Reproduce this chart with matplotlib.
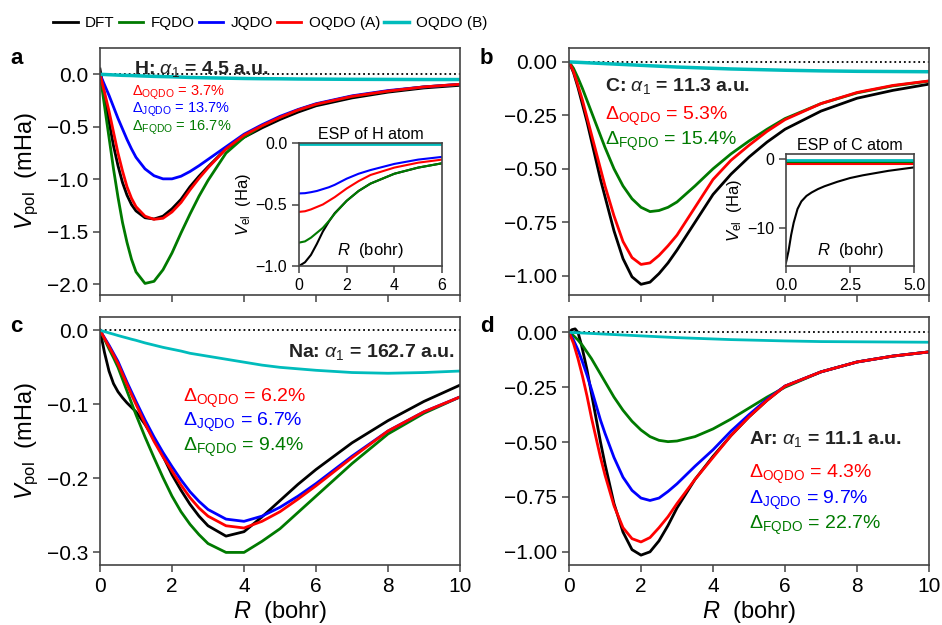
import matplotlib
matplotlib.use("Agg")
import matplotlib.pyplot as plt

plt.rcParams['font.family'] = ['Liberation Sans', 'DejaVu Sans']
plt.rcParams['mathtext.fontset'] = 'custom'
plt.rcParams['mathtext.rm'] = 'Liberation Sans'
plt.rcParams['mathtext.it'] = 'Liberation Sans:italic'
plt.rcParams['mathtext.bf'] = 'Liberation Sans:bold'

# colours of the methods
c_dft, c_fqdo, c_jqdo, c_oa, c_ob = 'black', '#007a00', '#0000ff', '#ff0000', '#00bcbc'

# common R grid (bohr) for the main panels
R = [0, 0.125, 0.25, 0.375, 0.5, 0.625, 0.75, 0.875, 1.0,
     1.25, 1.5, 1.75, 2.0, 2.25, 2.5, 2.75, 3.0,
     3.5, 4.0, 4.5, 5.0, 5.5, 6.0,
     7.0, 8.0, 9.0, 10.0]

# H (mHa)
h_dft = [0.05, -0.2, -0.45, -0.68, -0.87, -1.03, -1.15, -1.24, -1.3,
         -1.365, -1.377, -1.35, -1.28, -1.19, -1.07, -0.97, -0.88,
         -0.71, -0.6, -0.51, -0.43, -0.36, -0.3,
         -0.225, -0.17, -0.13, -0.105]
h_oqdo_a = [0, -0.17, -0.35, -0.55, -0.75, -0.92, -1.07, -1.18, -1.26,
            -1.35, -1.38, -1.37, -1.31, -1.22, -1.1, -0.99, -0.89,
            -0.71, -0.58, -0.49, -0.41, -0.34, -0.285,
            -0.21, -0.16, -0.12, -0.095]
h_jqdo = [0, -0.1, -0.2, -0.31, -0.42, -0.52, -0.62, -0.71, -0.79,
          -0.9, -0.965, -0.995, -0.995, -0.97, -0.925, -0.87, -0.81,
          -0.69, -0.57, -0.48, -0.4, -0.335, -0.28,
          -0.205, -0.155, -0.12, -0.095]
h_fqdo = [0, -0.3, -0.6, -0.9, -1.17, -1.41, -1.6, -1.76, -1.88,
          -1.99, -1.97, -1.86, -1.7, -1.51, -1.33, -1.16, -1.01,
          -0.75, -0.6, -0.49, -0.41, -0.34, -0.285,
          -0.21, -0.16, -0.12, -0.097]
h_oqdo_b = [0, -0.002, -0.004, -0.006, -0.008, -0.01, -0.011, -0.012, -0.014,
            -0.017, -0.02, -0.022, -0.024, -0.027, -0.03, -0.032, -0.034,
            -0.037, -0.04, -0.042, -0.043, -0.045, -0.046,
            -0.048, -0.049, -0.05, -0.05]

# C (mHa)
c_dft_v = [0, -0.05, -0.12, -0.2, -0.28, -0.37, -0.46, -0.55, -0.63,
           -0.79, -0.92, -1.005, -1.04, -1.03, -0.99, -0.94, -0.88,
           -0.75, -0.62, -0.525, -0.445, -0.375, -0.315,
           -0.23, -0.17, -0.133, -0.104]
c_oqdo_a = [0, -0.045, -0.11, -0.18, -0.26, -0.34, -0.42, -0.5, -0.58,
            -0.72, -0.84, -0.915, -0.947, -0.94, -0.905, -0.86, -0.81,
            -0.68, -0.55, -0.46, -0.39, -0.325, -0.27,
            -0.195, -0.143, -0.11, -0.089]
c_fqdo_v = [0, -0.03, -0.075, -0.125, -0.18, -0.235, -0.29, -0.345, -0.4,
            -0.5, -0.58, -0.64, -0.68, -0.7, -0.695, -0.68, -0.655,
            -0.58, -0.5, -0.43, -0.37, -0.315, -0.265,
            -0.195, -0.145, -0.112, -0.09]
c_oqdo_b = [0, -0.001, -0.002, -0.003, -0.004, -0.005, -0.006, -0.007, -0.008,
            -0.01, -0.012, -0.014, -0.016, -0.018, -0.02, -0.022, -0.024,
            -0.027, -0.03, -0.033, -0.035, -0.037, -0.039,
            -0.042, -0.044, -0.045, -0.046]

# Na (mHa)
na_dft = [0, -0.03, -0.055, -0.072, -0.083, -0.091, -0.098, -0.104, -0.11,
          -0.127, -0.147, -0.17, -0.195, -0.216, -0.235, -0.251, -0.264,
          -0.278, -0.272, -0.252, -0.23, -0.208, -0.188,
          -0.152, -0.122, -0.096, -0.074]
na_jqdo = [0, -0.01, -0.02, -0.031, -0.042, -0.056, -0.07, -0.083, -0.096,
           -0.121, -0.144, -0.165, -0.184, -0.202, -0.218, -0.231, -0.242,
           -0.255, -0.258, -0.251, -0.239, -0.224, -0.207,
           -0.17, -0.136, -0.11, -0.09]
na_oqdo_a = [0, -0.011, -0.022, -0.033, -0.045, -0.059, -0.073, -0.087, -0.1,
             -0.126, -0.15, -0.171, -0.19, -0.209, -0.226, -0.24, -0.251,
             -0.264, -0.267, -0.258, -0.245, -0.228, -0.21,
             -0.172, -0.136, -0.11, -0.09]
na_fqdo = [0, -0.012, -0.025, -0.037, -0.05, -0.066, -0.082, -0.098, -0.114,
           -0.144, -0.172, -0.199, -0.224, -0.245, -0.262, -0.276, -0.288,
           -0.3, -0.3, -0.285, -0.268, -0.246, -0.224,
           -0.18, -0.14, -0.112, -0.09]
na_oqdo_b = [0, -0.0017, -0.0035, -0.0052, -0.007, -0.0087, -0.0103, -0.012, -0.0135,
             -0.017, -0.02, -0.023, -0.0255, -0.028, -0.031, -0.033, -0.035,
             -0.039, -0.043, -0.047, -0.05, -0.052, -0.054,
             -0.057, -0.058, -0.057, -0.055]

# Ar (mHa); DFT has its own grid because of the bump near R = 0
R_ar_dft = [0, 0.08, 0.17, 0.25, 0.35, 0.5, 0.625, 0.75, 0.875, 1.0,
            1.25, 1.5, 1.75, 2.0, 2.25, 2.5, 2.75, 3.0,
            3.5, 4.0, 4.5, 5.0, 5.5, 6.0, 7.0, 8.0, 9.0, 10.0]
ar_dft = [0, 0.012, 0.016, 0.0, -0.06, -0.17, -0.28, -0.39, -0.5, -0.6,
          -0.78, -0.91, -0.99, -1.015, -1.0, -0.95, -0.88, -0.8,
          -0.67, -0.565, -0.47, -0.385, -0.31, -0.245, -0.18, -0.135, -0.108, -0.089]
ar_oqdo_a = [0, -0.05, -0.12, -0.2, -0.29, -0.39, -0.48, -0.57, -0.65,
             -0.79, -0.89, -0.94, -0.955, -0.935, -0.89, -0.84, -0.78,
             -0.67, -0.57, -0.47, -0.385, -0.31, -0.245,
             -0.18, -0.135, -0.108, -0.089]
ar_jqdo = [0, -0.035, -0.08, -0.135, -0.195, -0.26, -0.33, -0.4, -0.46,
           -0.57, -0.66, -0.72, -0.755, -0.766, -0.755, -0.725, -0.69,
           -0.61, -0.535, -0.45, -0.375, -0.305, -0.245,
           -0.18, -0.135, -0.108, -0.089]
ar_fqdo = [0, -0.015, -0.035, -0.06, -0.09, -0.12, -0.155, -0.19, -0.225,
           -0.295, -0.355, -0.405, -0.445, -0.475, -0.492, -0.498, -0.495,
           -0.475, -0.44, -0.395, -0.345, -0.295, -0.25,
           -0.18, -0.135, -0.108, -0.089]
ar_oqdo_b = [0, -0.001, -0.002, -0.003, -0.004, -0.005, -0.006, -0.007, -0.008,
             -0.01, -0.012, -0.014, -0.016, -0.018, -0.02, -0.022, -0.024,
             -0.027, -0.03, -0.033, -0.035, -0.037, -0.039,
             -0.042, -0.043, -0.044, -0.045]

# inset: ESP of H atom (Ha)
R_esp_h = [0, 0.25, 0.5, 0.75, 1.0, 1.25, 1.5, 2.0, 2.5, 3.0, 4.0, 5.0, 6.0]
esp_h_dft = [-1.0, -0.97, -0.91, -0.82, -0.72, -0.64, -0.57, -0.47, -0.39, -0.33, -0.25, -0.2, -0.165]
esp_h_fqdo = [-0.81, -0.8, -0.77, -0.73, -0.69, -0.635, -0.575, -0.47, -0.39, -0.33, -0.25, -0.2, -0.165]
esp_h_oqdo_a = [-0.56, -0.555, -0.54, -0.52, -0.5, -0.47, -0.44, -0.37, -0.31, -0.26, -0.2, -0.16, -0.135]
esp_h_jqdo = [-0.41, -0.408, -0.4, -0.39, -0.375, -0.36, -0.34, -0.29, -0.25, -0.22, -0.17, -0.135, -0.113]
esp_h_oqdo_b = [-0.01, -0.01, -0.01, -0.01, -0.01, -0.01, -0.01, -0.01, -0.01, -0.01, -0.01, -0.01, -0.01]

# inset: ESP of C atom (Ha)
R_esp_c = [0, 0.1, 0.2, 0.3, 0.45, 0.6, 0.8, 1.0, 1.25, 1.5, 2.0, 2.5, 3.0, 4.0, 5.0]
esp_c_dft = [-15.0, -13.3, -11.0, -9.2, -7.2, -6.1, -5.3, -4.8, -4.3, -3.9, -3.25, -2.7, -2.3, -1.65, -1.15]
esp_c_end = [0, 5.0]
esp_c_oqdo_a = [-0.6, -0.6]
esp_c_fqdo = [-0.35, -0.35]
esp_c_oqdo_b = [-0.1, -0.1]

W, H = 942, 625
fig = plt.figure(figsize=(W / 100, H / 100), dpi=100)


def px_axes(x0, y0, x1, y1):
    return fig.add_axes([x0 / W, 1 - y1 / H, (x1 - x0) / W, (y1 - y0) / H])


def style(ax, size=15):
    for s in ax.spines.values():
        s.set_color('#444444')
        s.set_linewidth(1.2)
    ax.tick_params(direction='out', length=5, width=1.1, labelsize=size, color='#444444')


lw = 2.0
ax_a = px_axes(100, 48, 460, 295)
ax_b = px_axes(569, 48, 929, 295)
ax_c = px_axes(100, 317, 460, 565)
ax_d = px_axes(569, 317, 929, 565)

for ax in (ax_a, ax_b, ax_c, ax_d):
    ax.plot([0, 10], [0, 0], ':', color='black', lw=1.3, zorder=1)
    style(ax)
    ax.set_xlim(0, 10)
    ax.set_xticks([0, 2, 4, 6, 8, 10])

# panel a
ax_a.plot(R, h_dft, color=c_dft, lw=lw, label='DFT')
ax_a.plot(R, h_fqdo, color=c_fqdo, lw=lw, label='FQDO')
ax_a.plot(R, h_jqdo, color=c_jqdo, lw=lw, label='JQDO')
ax_a.plot(R, h_oqdo_a, color=c_oa, lw=lw, label='OQDO (A)')
ax_a.plot(R, h_oqdo_b, color=c_ob, lw=lw + 0.5, label='OQDO (B)')
ax_a.set_ylim(-2.1, 0.25)
ax_a.set_yticks([0, -0.5, -1.0, -1.5, -2.0])
ax_a.set_yticklabels(['0.0', '−0.5', '−1.0', '−1.5', '−2.0'])
ax_a.set_xticklabels([])
ax_a.set_ylabel('$V_{\\rm pol}$  (mHa)', fontsize=17)
ax_a.text(0.095, 0.955, 'H: $\\alpha_1$ = 4.5 a.u.', transform=ax_a.transAxes, fontsize=14,
          fontweight='bold', color='#222222', va='top')
ax_a.text(0.09, 0.855, '$\\Delta_{\\rm OQDO}$ = 3.7%', transform=ax_a.transAxes, fontsize=10.5, color=c_oa, va='top')
ax_a.text(0.09, 0.785, '$\\Delta_{\\rm JQDO}$ = 13.7%', transform=ax_a.transAxes, fontsize=10.5, color=c_jqdo, va='top')
ax_a.text(0.09, 0.715, '$\\Delta_{\\rm FQDO}$ = 16.7%', transform=ax_a.transAxes, fontsize=10.5, color=c_fqdo, va='top')

# panel b
ax_b.plot(R, c_dft_v, color=c_dft, lw=lw)
ax_b.plot(R, c_fqdo_v, color=c_fqdo, lw=lw)
ax_b.plot(R, c_oqdo_a, color=c_oa, lw=lw)
ax_b.plot(R, c_oqdo_b, color=c_ob, lw=lw + 0.5)
ax_b.set_ylim(-1.09, 0.065)
ax_b.set_yticks([0, -0.25, -0.5, -0.75, -1.0])
ax_b.set_yticklabels(['0.00', '−0.25', '−0.50', '−0.75', '−1.00'])
ax_b.set_xticklabels([])
ax_b.text(0.1, 0.885, 'C: $\\alpha_1$ = 11.3 a.u.', transform=ax_b.transAxes, fontsize=14,
          fontweight='bold', color='#222222', va='top')
ax_b.text(0.1, 0.77, '$\\Delta_{\\rm OQDO}$ = 5.3%', transform=ax_b.transAxes, fontsize=14, color=c_oa, va='top')
ax_b.text(0.1, 0.67, '$\\Delta_{\\rm FQDO}$ = 15.4%', transform=ax_b.transAxes, fontsize=14, color=c_fqdo, va='top')

# panel c
ax_c.plot(R, na_dft, color=c_dft, lw=lw)
ax_c.plot(R, na_fqdo, color=c_fqdo, lw=lw)
ax_c.plot(R, na_jqdo, color=c_jqdo, lw=lw)
ax_c.plot(R, na_oqdo_a, color=c_oa, lw=lw)
ax_c.plot(R, na_oqdo_b, color=c_ob, lw=lw)
ax_c.set_ylim(-0.317, 0.018)
ax_c.set_yticks([0, -0.1, -0.2, -0.3])
ax_c.set_yticklabels(['0.0', '−0.1', '−0.2', '−0.3'])
ax_c.set_xticklabels(['0', '2', '4', '6', '8', '10'])
ax_c.set_ylabel('$V_{\\rm pol}$  (mHa)', fontsize=17)
ax_c.set_xlabel('$R$  (bohr)', fontsize=17, labelpad=2)
ax_c.text(0.985, 0.9, 'Na: $\\alpha_1$ = 162.7 a.u.', transform=ax_c.transAxes, fontsize=14,
          fontweight='bold', color='#222222', ha='right', va='top')
ax_c.text(0.23, 0.72, '$\\Delta_{\\rm OQDO}$ = 6.2%', transform=ax_c.transAxes, fontsize=14, color=c_oa, va='top')
ax_c.text(0.23, 0.62, '$\\Delta_{\\rm JQDO}$ = 6.7%', transform=ax_c.transAxes, fontsize=14, color=c_jqdo, va='top')
ax_c.text(0.23, 0.52, '$\\Delta_{\\rm FQDO}$ = 9.4%', transform=ax_c.transAxes, fontsize=14, color=c_fqdo, va='top')

# panel d
ax_d.plot(R_ar_dft, ar_dft, color=c_dft, lw=lw)
ax_d.plot(R, ar_fqdo, color=c_fqdo, lw=lw)
ax_d.plot(R, ar_jqdo, color=c_jqdo, lw=lw)
ax_d.plot(R, ar_oqdo_a, color=c_oa, lw=lw)
ax_d.plot(R, ar_oqdo_b, color=c_ob, lw=lw)
ax_d.set_ylim(-1.06, 0.07)
ax_d.set_yticks([0, -0.25, -0.5, -0.75, -1.0])
ax_d.set_yticklabels(['0.00', '−0.25', '−0.50', '−0.75', '−1.00'])
ax_d.set_xticklabels(['0', '2', '4', '6', '8', '10'])
ax_d.set_xlabel('$R$  (bohr)', fontsize=17, labelpad=2)
ax_d.text(0.5, 0.548, 'Ar: $\\alpha_1$ = 11.1 a.u.', transform=ax_d.transAxes, fontsize=14,
          fontweight='bold', color='#222222', va='top')
ax_d.text(0.5, 0.412, '$\\Delta_{\\rm OQDO}$ = 4.3%', transform=ax_d.transAxes, fontsize=14, color=c_oa, va='top')
ax_d.text(0.5, 0.308, '$\\Delta_{\\rm JQDO}$ = 9.7%', transform=ax_d.transAxes, fontsize=14, color=c_jqdo, va='top')
ax_d.text(0.5, 0.208, '$\\Delta_{\\rm FQDO}$ = 22.7%', transform=ax_d.transAxes, fontsize=14, color=c_fqdo, va='top')

# panel letters
for lab, x, y in [('a', 10, 58), ('b', 480, 58), ('c', 10, 327), ('d', 480, 327)]:
    fig.text(x / W, 1 - y / H, lab, fontsize=16, fontweight='bold', va='center')

# inset a
ins_a = px_axes(299, 143, 442, 266)
ins_a.plot(R_esp_h, esp_h_dft, color=c_dft, lw=1.5)
ins_a.plot(R_esp_h, esp_h_fqdo, color=c_fqdo, lw=1.5)
ins_a.plot(R_esp_h, esp_h_jqdo, color=c_jqdo, lw=1.5)
ins_a.plot(R_esp_h, esp_h_oqdo_a, color=c_oa, lw=1.5)
ins_a.plot(R_esp_h, esp_h_oqdo_b, color=c_ob, lw=2)
style(ins_a, 11.5)
ins_a.set_xlim(0, 6)
ins_a.set_ylim(-1.0, 0.0)
ins_a.set_xticks([0, 2, 4, 6])
ins_a.set_yticks([0, -0.5, -1.0])
ins_a.set_yticklabels(['0.0', '−0.5', '−1.0'])
ins_a.set_title('ESP of H atom', fontsize=11.5, pad=3)
ins_a.set_ylabel('$V_{\\rm el}$  (Ha)', fontsize=12, labelpad=2)
ins_a.text(0.5, 0.05, '$R$  (bohr)', transform=ins_a.transAxes, fontsize=12, ha='center', va='bottom')

# inset b
ins_b = px_axes(786, 154, 914, 266)
ins_b.plot(R_esp_c, esp_c_dft, color=c_dft, lw=1.5)
ins_b.plot(esp_c_end, esp_c_oqdo_a, color=c_oa, lw=1.5)
ins_b.plot(esp_c_end, esp_c_fqdo, color=c_fqdo, lw=1.5)
ins_b.plot(esp_c_end, esp_c_oqdo_b, color=c_ob, lw=2)
style(ins_b, 11.5)
ins_b.set_xlim(0, 5)
ins_b.set_ylim(-15.5, 0.8)
ins_b.set_xticks([0, 2.5, 5.0])
ins_b.set_yticks([0, -10])
ins_b.set_yticklabels(['0', '−10'])
ins_b.set_title('ESP of C atom', fontsize=11.5, pad=3)
ins_b.set_ylabel('$V_{\\rm el}$  (Ha)', fontsize=12, labelpad=2)
ins_b.text(0.5, 0.05, '$R$  (bohr)', transform=ins_b.transAxes, fontsize=12, ha='center', va='bottom')

# legend on top
handles, labels = ax_a.get_legend_handles_labels()
fig.legend(handles, labels, loc='center', bbox_to_anchor=(0.287, 0.963), ncol=5,
           frameon=False, fontsize=11, handlelength=1.6, columnspacing=0.25,
           handletextpad=0.5)

fig.savefig('out.png', dpi=100)
